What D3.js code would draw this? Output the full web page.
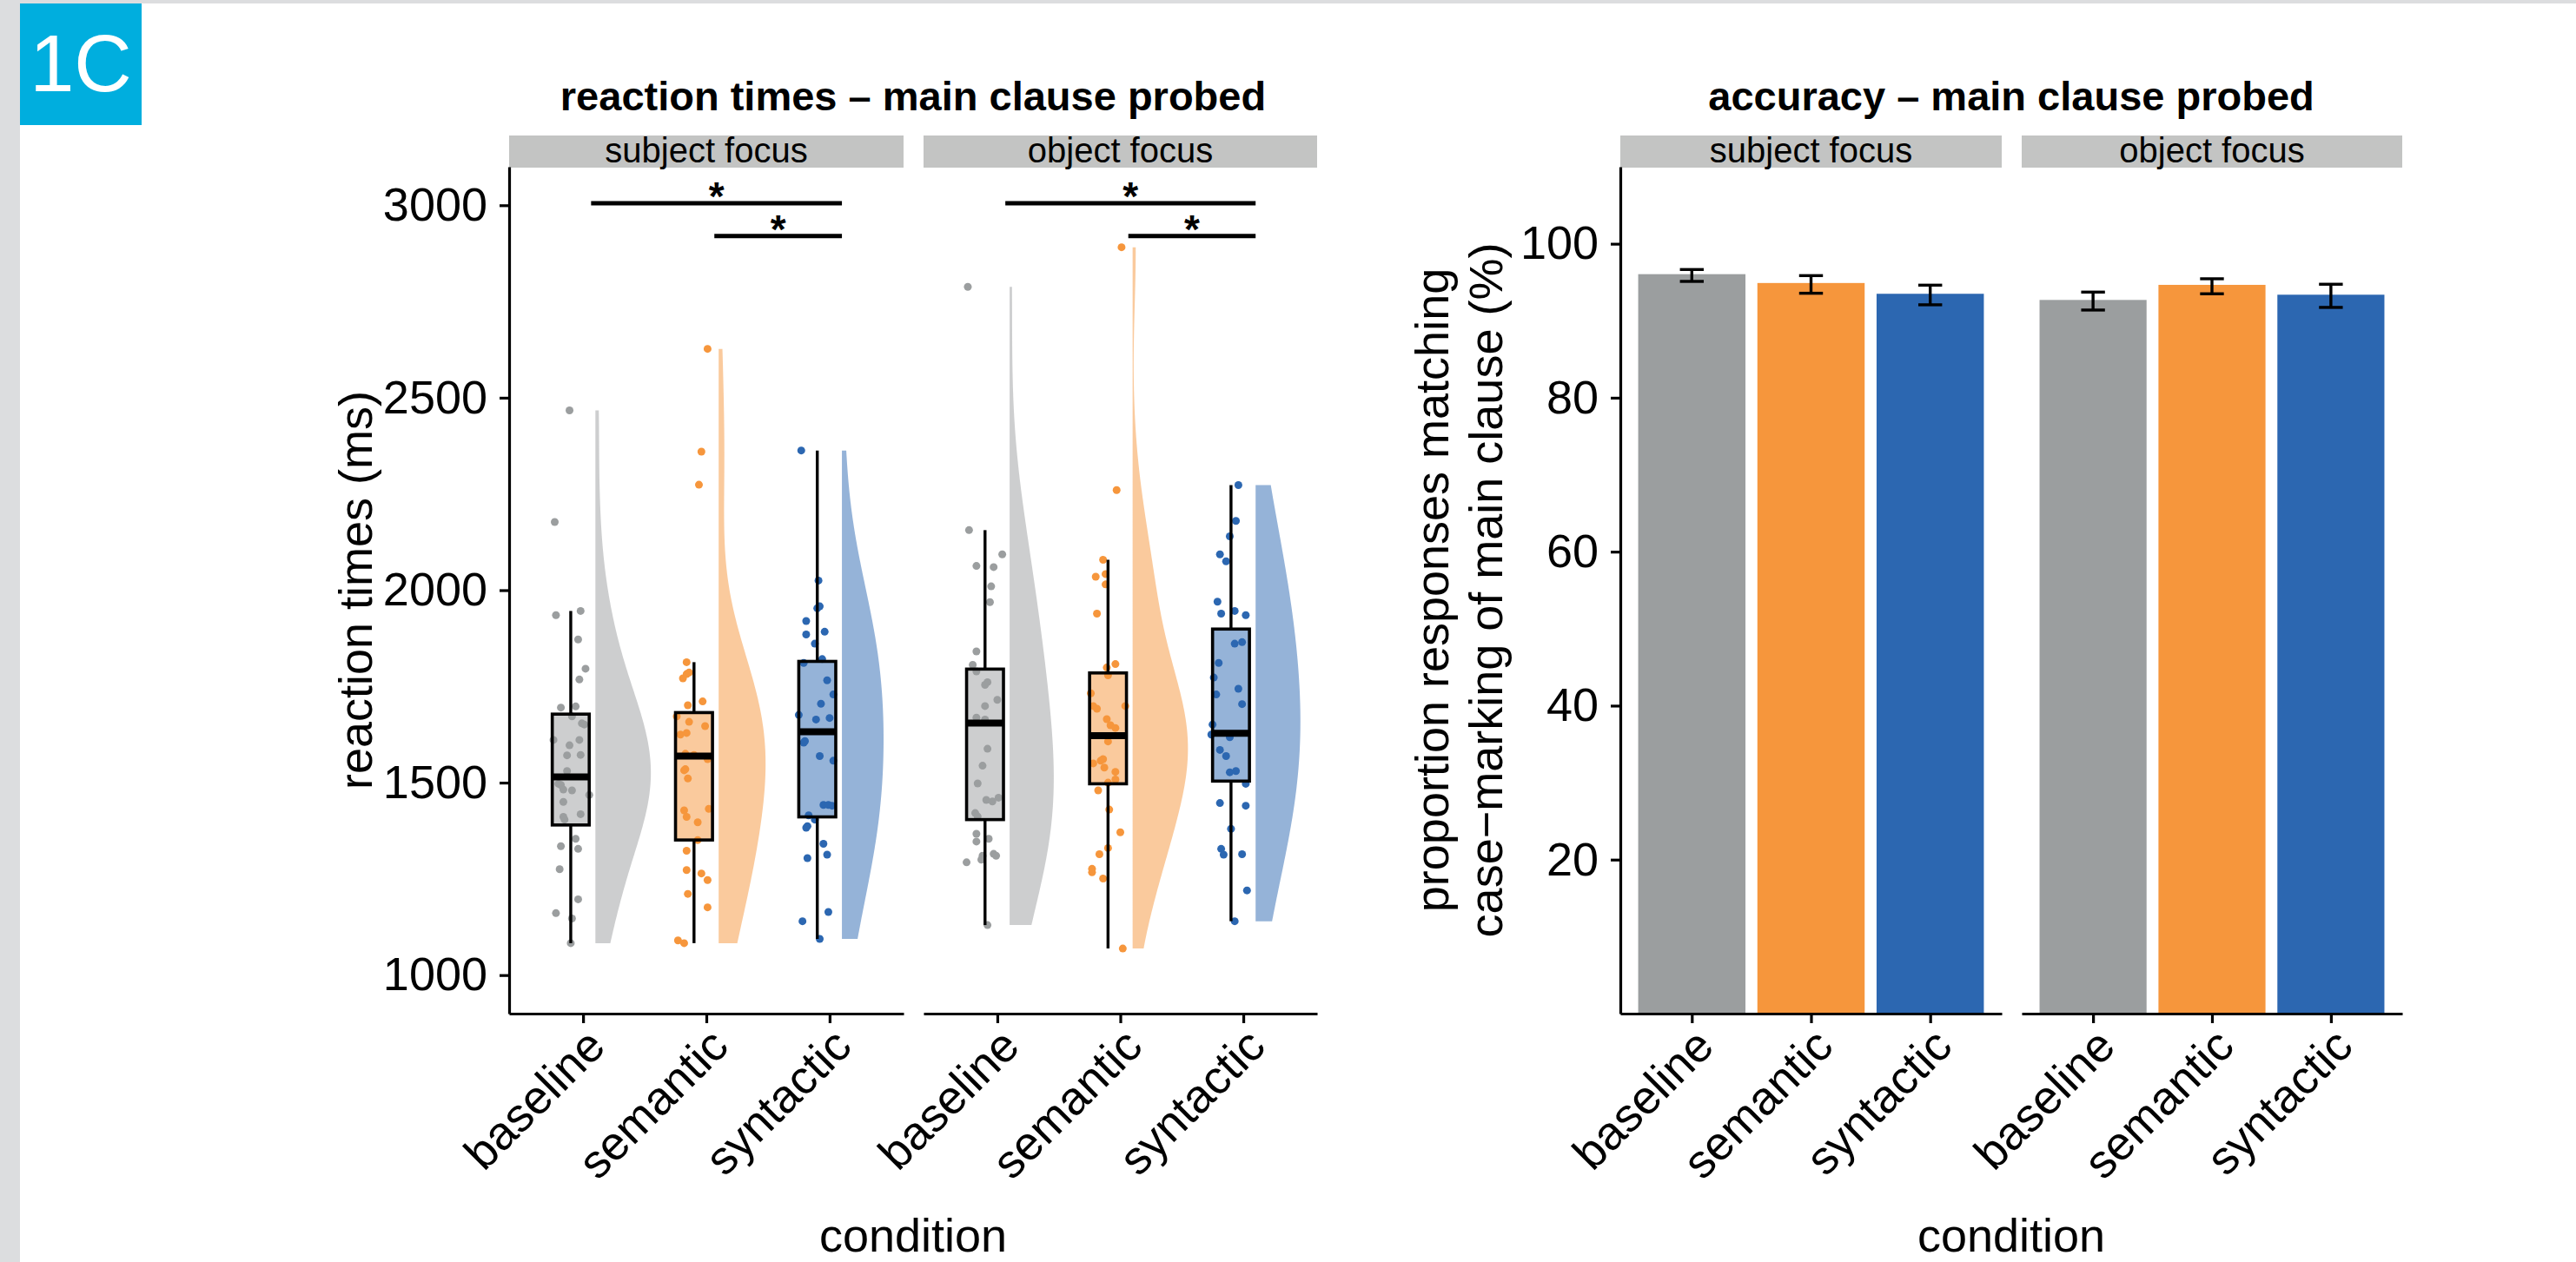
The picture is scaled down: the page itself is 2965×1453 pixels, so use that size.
<!DOCTYPE html>
<html>
<head>
<meta charset="utf-8">
<script src="https://cdn.jsdelivr.net/npm/d3@7"></script>
<style>
body { margin: 0; background: #fff; }
svg { display: block; }
text { font-family: "Liberation Sans", Arial, Helvetica, sans-serif; }
</style>
</head>
<body>
<script>
var conditions = ['baseline', 'semantic', 'syntactic'];
var facets = ['subject focus', 'object focus'];

// reaction times (ms), one value per participant
var rtSubjectBaseline = [2467, 2177, 1935, 1946, 1872, 1796, 1768, 1695, 1698, 1672, 1654, 1651, 1611, 1611, 1597, 1571, 1572, 1530, 1497, 1494, 1482, 1480, 1450, 1468, 1411, 1418, 1404, 1354, 1335, 1328, 1275, 1197, 1161, 1147, 1083];
var rtSubjectSemantic = [2627, 2360, 2274, 1813, 1771, 1782, 1786, 1701, 1711, 1672, 1658, 1625, 1629, 1647, 1575, 1572, 1561, 1532, 1535, 1511, 1432, 1428, 1411, 1397, 1351, 1323, 1273, 1264, 1247, 1211, 1176, 1090, 1083];
var rtSubjectSyntactic = [2363, 2025, 1958, 1953, 1920, 1885, 1892, 1861, 1811, 1821, 1766, 1729, 1705, 1676, 1664, 1668, 1604, 1608, 1569, 1557, 1442, 1442, 1440, 1415, 1404, 1383, 1387, 1341, 1313, 1304, 1164, 1140, 1094];
var rtObjectBaseline = [2788, 2156, 2093, 2063, 2060, 2010, 1969, 1841, 1806, 1789, 1761, 1754, 1715, 1699, 1669, 1664, 1588, 1544, 1498, 1455, 1451, 1461, 1421, 1412, 1367, 1347, 1354, 1310, 1300, 1315, 1310, 1293, 1130];
var rtObjectSemantic = [2891, 2260, 2079, 2035, 2042, 2015, 1939, 1808, 1799, 1779, 1732, 1699, 1699, 1692, 1665, 1649, 1642, 1607, 1561, 1557, 1550, 1539, 1528, 1508, 1500, 1480, 1430, 1371, 1330, 1314, 1276, 1267, 1251, 1069];
var rtObjectSyntactic = [2273, 2180, 2140, 2093, 2075, 1970, 1939, 1946, 1935, 1861, 1865, 1811, 1773, 1729, 1744, 1704, 1651, 1625, 1618, 1585, 1569, 1527, 1530, 1497, 1447, 1440, 1380, 1328, 1313, 1314, 1220, 1140];

// horizontal jitter of each point, in category steps
var jitSubjectBaseline = [-0.11, -0.23, -0.22, -0.02, -0.04, 0.02, -0.03, -0.18, -0.06, -0.09, -0.01, 0.01, -0.24, -0.03, -0.11, -0.13, -0.02, -0.13, -0.20, -0.18, -0.16, -0.09, -0.16, 0.05, -0.16, -0.02, -0.15, -0.06, -0.18, -0.04, -0.19, -0.04, -0.22, -0.09, -0.10];
var jitSubjectSemantic = [0.01, -0.04, -0.06, -0.16, -0.19, -0.16, -0.14, -0.15, -0.03, -0.24, -0.14, -0.21, -0.16, -0.01, -0.17, -0.10, 0.01, -0.18, -0.17, -0.15, 0.02, -0.18, -0.16, -0.07, -0.07, -0.16, -0.16, -0.04, 0.01, -0.15, 0.01, -0.23, -0.18];
var jitSubjectSyntactic = [-0.23, -0.09, -0.08, -0.10, -0.19, -0.19, -0.04, -0.12, -0.21, -0.06, -0.02, 0.03, -0.07, -0.25, -0.11, 0.00, -0.21, -0.20, -0.08, 0.03, -0.05, -0.01, 0.02, -0.17, -0.12, -0.19, -0.18, -0.05, -0.02, -0.18, -0.01, -0.22, -0.08];
var jitObjectBaseline = [-0.24, -0.23, 0.04, -0.17, -0.03, -0.05, -0.06, -0.17, -0.20, -0.17, -0.08, -0.10, 0.00, -0.10, -0.17, -0.10, -0.08, -0.12, -0.16, -0.09, -0.04, 0.01, -0.18, -0.16, -0.17, -0.17, -0.07, -0.12, -0.13, -0.03, -0.01, -0.25, -0.08];
var jitObjectSemantic = [0.01, -0.03, -0.14, -0.20, -0.12, -0.12, -0.19, -0.04, -0.11, -0.10, -0.24, 0.04, -0.22, -0.19, -0.11, -0.08, -0.04, -0.10, -0.14, -0.16, -0.22, -0.13, -0.04, -0.04, -0.10, -0.18, -0.09, 0.00, -0.10, -0.17, -0.23, -0.23, -0.14, 0.02];
var jitObjectSyntactic = [-0.04, -0.06, -0.11, -0.19, -0.14, -0.21, -0.18, -0.07, 0.02, -0.07, -0.01, -0.20, -0.24, -0.22, -0.04, -0.01, -0.25, -0.26, -0.11, -0.19, -0.14, -0.11, -0.06, 0.02, -0.19, 0.02, -0.10, -0.18, -0.16, -0.01, 0.03, -0.07];

// boxplot stats: [whisker low, q1, median, q3, whisker high]
var boxSubject = [[1083, 1390, 1515, 1678, 1946], [1083, 1351, 1569, 1682, 1813], [1094, 1411, 1632, 1815, 2363]];
var boxObject = [[1130, 1404, 1655, 1795, 2156], [1069, 1497, 1622, 1785, 2079], [1140, 1504, 1628, 1899, 2273]];

// significance brackets: [from, to, height in ms]
var sigBrackets = [['baseline', 'syntactic', 3005], ['semantic', 'syntactic', 2920]];

// accuracy (%) with error bar limits
var accSubject = [96.05, 94.9, 93.5];
var accObject = [92.7, 94.66, 93.38];
var accSubjectLow = [95.11, 93.57, 92.07];
var accSubjectHigh = [96.65, 95.86, 94.62];
var accObjectLow = [91.39, 93.5, 91.73];
var accObjectHigh = [93.72, 95.45, 94.74];

var rtTicks = [1000, 1500, 2000, 2500, 3000];
var accTicks = [20, 40, 60, 80, 100];

var w = 2965, h = 1453;
var colors = ['#9b9e9f', '#f6963c', '#2c67b1'];
var plotTop = 192, plotBottom = 1167;
var fontSize = 54;

var svg = d3.select('body').append('svg').attr('width', w).attr('height', h);

// page frame and panel label
svg.append('rect').attr('width', w).attr('height', h).attr('fill', '#fff');
svg.append('rect').attr('x', 0).attr('y', 0).attr('width', w).attr('height', 4).attr('fill', '#dcdddf');
svg.append('rect').attr('x', 0).attr('y', 0).attr('width', 23).attr('height', h).attr('fill', '#dcdddf');
svg.append('rect').attr('x', 23).attr('y', 4).attr('width', 140).attr('height', 140).attr('fill', '#00aede');
svg.append('text').text('1C')
  .attr('x', 93).attr('y', 105)
  .attr('text-anchor', 'middle')
  .attr('font-family', '"Open Sans", sans-serif')
  .attr('font-size', 92)
  .attr('fill', '#fff');

function styleAxis(g) {
  g.select('.domain').attr('stroke', '#000').attr('stroke-width', 3.2);
  g.selectAll('.tick line').attr('stroke', '#000').attr('stroke-width', 3.2);
  g.selectAll('.tick text').attr('fill', '#000').attr('font-size', fontSize)
    .attr('font-family', '"Liberation Sans", Arial, sans-serif');
}

function rotateLabels(g) {
  g.selectAll('.tick text')
    .attr('text-anchor', 'end')
    .attr('y', 0).attr('dy', '0.72em')
    .attr('transform', 'translate(0,13) rotate(-45)');
}

function drawStrips(panels) {
  panels.forEach(function(p, i) {
    svg.append('rect').attr('x', p[0]).attr('y', 156).attr('width', p[1] - p[0]).attr('height', 37).attr('fill', '#c3c4c3');
    svg.append('text').text(facets[i])
      .attr('x', (p[0] + p[1]) / 2).attr('y', 187)
      .attr('text-anchor', 'middle').attr('font-size', 40).attr('fill', '#000');
  });
}

// gaussian density over the data range, bandwidth nrd0 times adjust
function kde(values, n, adjust) {
  var s = values.slice().sort(d3.ascending);
  var sd = d3.deviation(s);
  var iqr = d3.quantile(s, 0.75) - d3.quantile(s, 0.25);
  var bw = adjust * 0.9 * Math.min(sd, iqr / 1.34) * Math.pow(s.length, -0.2);
  var lo = s[0], hi = s[s.length - 1];
  return d3.range(n + 1).map(function(i) {
    var v = lo + (hi - lo) * i / n;
    var d = d3.mean(s, function(x) { var z = (v - x) / bw; return Math.exp(-0.5 * z * z); }) / (bw * Math.sqrt(2 * Math.PI));
    return {v: v, d: d};
  });
}

// ---------------- reaction times ----------------
var rtPanels = [[586, 1040], [1063, 1516]];
var rtData = [[rtSubjectBaseline, rtSubjectSemantic, rtSubjectSyntactic], [rtObjectBaseline, rtObjectSemantic, rtObjectSyntactic]];
var jitData = [[jitSubjectBaseline, jitSubjectSemantic, jitSubjectSyntactic], [jitObjectBaseline, jitObjectSemantic, jitObjectSyntactic]];
var boxData = [boxSubject, boxObject];

var yRT = d3.scaleLinear().domain([900, 3100]).range([plotBottom, plotTop]);

svg.append('text').text('reaction times \u2013 main clause probed')
  .attr('x', (rtPanels[0][0] + rtPanels[1][1]) / 2).attr('y', 127)
  .attr('text-anchor', 'middle').attr('font-weight', 'bold').attr('font-size', 47);
drawStrips(rtPanels);

rtPanels.forEach(function(p, f) {
  var x = d3.scalePoint().domain(conditions).range(p).padding(0.6);
  var step = x.step();
  var g = svg.append('g');

  var dens = rtData[f].map(function(vals) { return kde(vals, 150, 1.6); });
  var maxD = d3.max(dens, function(d) { return d3.max(d, function(e) { return e.d; }); });

  conditions.forEach(function(c, i) {
    var cx = x(c);
    var col = colors[i];
    // half violin
    var area = d3.area()
      .y(function(d) { return yRT(d.v); })
      .x0(cx + 0.1 * step)
      .x1(function(d) { return cx + 0.1 * step + 0.45 * step * d.d / maxD; })
      .curve(d3.curveBasis);
    g.append('path').datum(dens[i]).attr('d', area)
      .attr('fill', col).attr('fill-opacity', 0.5);

    // jittered points
    g.selectAll('circle.c' + i)
      .data(rtData[f][i])
      .enter()
      .append('circle')
      .attr('class', 'c' + i)
      .attr('cx', function(d, k) { return cx + jitData[f][i][k] * step; })
      .attr('cy', function(d) { return yRT(d); })
      .attr('r', 4.5)
      .attr('fill', col);

    // boxplot
    var b = boxData[f][i];
    var bx = cx - 0.1 * step, bw = 0.3 * step;
    g.append('line').attr('x1', bx).attr('x2', bx).attr('y1', yRT(b[0])).attr('y2', yRT(b[1]))
      .attr('stroke', '#000').attr('stroke-width', 3.4);
    g.append('line').attr('x1', bx).attr('x2', bx).attr('y1', yRT(b[3])).attr('y2', yRT(b[4]))
      .attr('stroke', '#000').attr('stroke-width', 3.4);
    g.append('rect').attr('x', bx - bw / 2).attr('width', bw)
      .attr('y', yRT(b[3])).attr('height', yRT(b[1]) - yRT(b[3]))
      .attr('fill', col).attr('fill-opacity', 0.5)
      .attr('stroke', '#000').attr('stroke-width', 3.6);
    g.append('line').attr('x1', bx - bw / 2).attr('x2', bx + bw / 2).attr('y1', yRT(b[2])).attr('y2', yRT(b[2]))
      .attr('stroke', '#000').attr('stroke-width', 8);
  });

  // significance brackets
  sigBrackets.forEach(function(s) {
    var x1 = x(s[0]) + 0.065 * step, x2 = x(s[1]) + 0.1 * step;
    svg.append('line').attr('x1', x1).attr('x2', x2).attr('y1', yRT(s[2])).attr('y2', yRT(s[2]))
      .attr('stroke', '#000').attr('stroke-width', 5);
    svg.append('text').text('*')
      .attr('x', (x1 + x2) / 2).attr('y', yRT(s[2]) + 8)
      .attr('text-anchor', 'middle').attr('font-weight', 'bold').attr('font-size', 46);
  });

  var ax = svg.append('g').attr('transform', 'translate(0,' + plotBottom + ')')
    .call(d3.axisBottom(x).tickSize(11).tickSizeOuter(0).tickPadding(0));
  styleAxis(ax);
  rotateLabels(ax);
});

var ayRT = svg.append('g').attr('transform', 'translate(' + rtPanels[0][0] + ',0)')
  .call(d3.axisLeft(yRT).tickValues(rtTicks).tickFormat(d3.format('d')).tickSize(11).tickSizeOuter(0).tickPadding(14));
styleAxis(ayRT);

svg.append('text').text('reaction times (ms)')
  .attr('transform', 'translate(428,' + (plotTop + plotBottom) / 2 + ') rotate(-90)')
  .attr('text-anchor', 'middle').attr('font-size', fontSize);
svg.append('text').text('condition')
  .attr('x', (rtPanels[0][0] + rtPanels[1][1]) / 2).attr('y', 1441)
  .attr('text-anchor', 'middle').attr('font-size', fontSize);

// ---------------- accuracy ----------------
var accPanels = [[1865, 2304], [2327, 2765]];
var accData = [accSubject, accObject];
var accLow = [accSubjectLow, accObjectLow];
var accHigh = [accSubjectHigh, accObjectHigh];

var yAcc = d3.scaleLinear().domain([0, 110]).range([plotBottom, plotTop]);

svg.append('text').text('accuracy \u2013 main clause probed')
  .attr('x', (accPanels[0][0] + accPanels[1][1]) / 2).attr('y', 127)
  .attr('text-anchor', 'middle').attr('font-weight', 'bold').attr('font-size', 47);
drawStrips(accPanels);

accPanels.forEach(function(p, f) {
  var x = d3.scalePoint().domain(conditions).range(p).padding(0.6);
  var step = x.step();
  var g = svg.append('g');

  g.selectAll('rect.bar')
    .data(accData[f])
    .enter()
    .append('rect')
    .attr('class', 'bar')
    .attr('x', function(d, i) { return x(conditions[i]) - 0.45 * step; })
    .attr('width', 0.9 * step)
    .attr('y', function(d) { return yAcc(d); })
    .attr('height', function(d) { return yAcc(0) - yAcc(d); })
    .attr('fill', function(d, i) { return colors[i]; });

  conditions.forEach(function(c, i) {
    var cx = x(c), hw = 0.1 * step;
    var lo = yAcc(accLow[f][i]), hi = yAcc(accHigh[f][i]);
    g.append('line').attr('x1', cx).attr('x2', cx).attr('y1', lo).attr('y2', hi)
      .attr('stroke', '#000').attr('stroke-width', 3.4);
    g.append('line').attr('x1', cx - hw).attr('x2', cx + hw).attr('y1', lo).attr('y2', lo)
      .attr('stroke', '#000').attr('stroke-width', 3.4);
    g.append('line').attr('x1', cx - hw).attr('x2', cx + hw).attr('y1', hi).attr('y2', hi)
      .attr('stroke', '#000').attr('stroke-width', 3.4);
  });

  var ax = svg.append('g').attr('transform', 'translate(0,' + plotBottom + ')')
    .call(d3.axisBottom(x).tickSize(11).tickSizeOuter(0).tickPadding(0));
  styleAxis(ax);
  rotateLabels(ax);
});

var ayAcc = svg.append('g').attr('transform', 'translate(' + accPanels[0][0] + ',0)')
  .call(d3.axisLeft(yAcc).tickValues(accTicks).tickSize(11).tickSizeOuter(0).tickPadding(14));
styleAxis(ayAcc);

var accTitle = svg.append('text')
  .attr('transform', 'translate(0,' + (plotTop + plotBottom) / 2 + ') rotate(-90)')
  .attr('text-anchor', 'middle').attr('font-size', fontSize);
accTitle.append('tspan').attr('x', 0).attr('y', 1667).text('proportion responses matching');
accTitle.append('tspan').attr('x', 0).attr('y', 1729).text('case\u2212marking of main clause (%)');

svg.append('text').text('condition')
  .attr('x', (accPanels[0][0] + accPanels[1][1]) / 2).attr('y', 1441)
  .attr('text-anchor', 'middle').attr('font-size', fontSize);
</script>
</body>
</html>
